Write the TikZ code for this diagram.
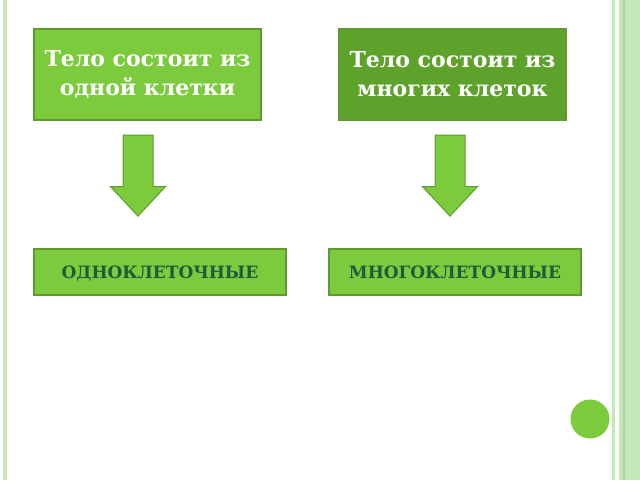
\documentclass[tikz,border=0pt]{standalone}
\usepackage{fontspec}
\setmainfont{DejaVu Serif}
\usetikzlibrary{positioning,shapes.arrows}
\definecolor{lightgr}{HTML}{7CCB3C}
\definecolor{darkgr}{HTML}{5FA22B}
\definecolor{edgegr}{HTML}{5E9B2E}
\definecolor{textgr}{HTML}{1E5A3C}
\definecolor{stripe}{HTML}{C6E6BC}
\definecolor{stripedk}{HTML}{A9D893}

\begin{document}
\begin{tikzpicture}[x=1pt,y=-1pt,
    topbox/.style={draw=edgegr, line width=1.2pt, minimum width=227pt, minimum height=91pt,
      inner sep=0pt, align=center, text=white, font=\bfseries\fontsize{22}{29}\selectfont},
    kindbox/.style={draw=edgegr, line width=1.2pt, fill=lightgr, minimum width=252pt,
      minimum height=46pt, inner sep=0pt, text height=12.4pt, text depth=0pt,
      text=textgr, font=\bfseries\fontsize{17}{18}\selectfont},
    downarrow/.style={single arrow, draw=edgegr, fill=lightgr, line width=1pt,
      shape border rotate=270, minimum height=81pt, inner sep=14.5pt,
      single arrow head extend=12.5pt, single arrow tip angle=86}
  ]
  \useasboundingbox (0,0) rectangle (640,480);
  % side stripes
  \fill[stripe] (3.3,0) rectangle (7.3,480);
  \fill[stripe] (612,0) rectangle (614.5,480);
  \fill[stripe] (619,0) rectangle (640,480);
  \fill[stripedk] (622.7,0) rectangle (625,480);

  \node [topbox, fill=lightgr] (one) at (147.5,74.5) {Тело состоит из\\одной клетки};
  \node [topbox, fill=darkgr] (many) at (452.5,74.5) {Тело состоит из\\многих клеток};

  \node [downarrow, anchor=north, below=14pt of one, xshift=-9.5pt] (arrone) {};
  \node [downarrow, anchor=north, below=14pt of many, xshift=-2.5pt] (arrmany) {};

  \node [kindbox] (uni) at (160,272) {ОДНОКЛЕТОЧНЫЕ};
  \node [kindbox] (multi) at (455,272) {МНОГОКЛЕТОЧНЫЕ};

  \fill[lightgr] (590,419) circle (19.5);
\end{tikzpicture}
\end{document}
